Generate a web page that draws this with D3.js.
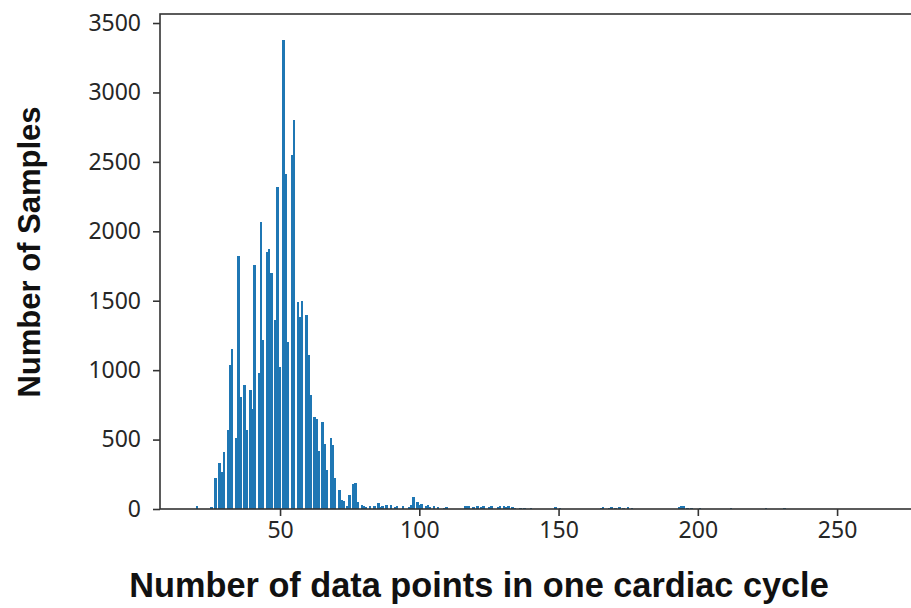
<!DOCTYPE html>
<html>
<head>
<meta charset="utf-8">
<script src="https://cdn.jsdelivr.net/npm/d3@7"></script>
<style>
  body { margin: 0; background: #fff; }
  svg { display: block; }
</style>
</head>
<body>
<div id="chart"></div>
<script>
// points per cardiac cycle (integer values) and how many samples have that length
const cycleLengths = [
  20, 25, 27, 28, 29, 30, 31, 32, 33, 34, 35, 36, 37, 38, 39, 40, 41, 42, 43, 44,
  45, 46, 47, 48, 49, 50, 51, 52, 53, 54, 55, 56, 57, 58, 59, 60, 61, 62, 63, 64,
  65, 66, 67, 68, 69, 70, 71, 72, 73, 74, 75, 76, 77, 78, 79, 80,
  81, 82, 84, 85, 86, 87, 88, 90, 91, 92, 94, 96, 97, 98, 99, 100, 101, 102, 103,
  104, 105, 107, 109, 110, 116, 117, 118, 119, 121, 122, 123, 125, 126, 128, 129,
  130, 131, 132, 133, 134, 136, 138, 140, 149, 150, 165, 166, 168, 169, 170, 172,
  173, 175, 176, 193, 194, 195, 196, 198, 201, 212, 224, 231
]
const sampleCounts = [
  20, 15, 220, 330, 265, 410, 570, 1040, 1150, 510, 1820, 810, 890, 570, 860, 720, 1760, 980, 2070, 1220,
  1850, 1870, 1700, 1360, 2320, 1020, 3380, 2410, 1200, 2550, 2800, 1490, 1385, 1500, 1400, 1110, 820, 660, 650, 420,
  630, 470, 280, 510, 460, 220, 140, 65, 60, 20, 100, 180, 190, 50, 30, 20,
  15, 25, 20, 40, 15, 20, 30, 30, 15, 20, 25, 15, 30, 85, 50, 30, 35, 25, 30,
  15, 20, 15, 10, 15, 25, 20, 20, 15, 20, 15, 20, 15, 20, 15, 20,
  20, 15, 20, 15, 10, 10, 10, 8, 15, 10, 10, 12, 10, 12, 10, 12,
  10, 12, 10, 15, 25, 20, 10, 10, 8, 8, 8, 8
]
const xTicks = [50, 100, 150, 200, 250]
const yTicks = [0, 500, 1000, 1500, 2000, 2500, 3000, 3500]

const xLabel = 'Number of data points in one cardiac cycle'
const yLabel = 'Number of Samples'

// histogram bins are narrower than one unit, so some bins stay empty
const BIN_ORIGIN = 19
const BIN_WIDTH = 0.74

const BAR_FILL = '#1f77b4'
const AXIS_COLOR = '#333'

const dimensions = {
  width: 911,
  height: 608,
  margin: {
    top: 14,
    right: -18, // the right spine sits just past the window edge
    bottom: 99,
    left: 160
  }
}

const bins = cycleLengths.map((v, i) => {
  const idx = Math.floor((v - BIN_ORIGIN) / BIN_WIDTH)
  const x0 = BIN_ORIGIN + idx * BIN_WIDTH
  return { x0, x1: x0 + BIN_WIDTH, count: sampleCounts[i] }
})

const wrapper = d3.select('#chart').append('svg')
  .attr('width', dimensions.width)
  .attr('height', dimensions.height)

const innerW = dimensions.width - dimensions.margin.left - dimensions.margin.right
const innerH = dimensions.height - dimensions.margin.top - dimensions.margin.bottom

const xScale = d3.scaleLinear()
  .domain([6.9, 283])
  .range([dimensions.margin.left, dimensions.margin.left + innerW])
const yScale = d3.scaleLinear()
  .domain([0, 3565])
  .range([dimensions.margin.top + innerH, dimensions.margin.top])

// bars
wrapper.append('g')
  .attr('shape-rendering', 'crispEdges')
  .selectAll('rect')
  .data(bins)
  .join('rect')
  .attr('x', d => xScale(d.x0))
  .attr('width', d => xScale(d.x1) - xScale(d.x0) + 0.5)
  .attr('y', d => yScale(d.count))
  .attr('height', d => yScale(0) - yScale(d.count))
  .style('fill', BAR_FILL)

// axes
const xAxisContainer = wrapper.append('g')
  .attr('transform', `translate(0, ${yScale(0)})`)
  .call(d3.axisBottom(xScale).tickValues(xTicks).tickFormat(d3.format('d')).tickSize(7).tickPadding(6).tickSizeOuter(0))
const yAxisContainer = wrapper.append('g')
  .attr('transform', `translate(${xScale.range()[0]}, 0)`)
  .call(d3.axisLeft(yScale).tickValues(yTicks).tickFormat(d3.format('d')).tickSize(7).tickPadding(12).tickSizeOuter(0))

for (const ax of [xAxisContainer, yAxisContainer]) {
  ax.select('.domain').remove()
  ax.selectAll('.tick line').attr('stroke', AXIS_COLOR).attr('stroke-width', 1.6)
  ax.selectAll('.tick text')
    .attr('fill', '#262626')
    .style('font-family', '"Noto Sans", "Open Sans", sans-serif')
    .style('font-size', '23px')
}

// frame (matplotlib spines)
wrapper.append('rect')
  .attr('x', xScale.range()[0])
  .attr('y', yScale.range()[1])
  .attr('width', innerW)
  .attr('height', innerH)
  .attr('fill', 'none')
  .attr('stroke', AXIS_COLOR)
  .attr('stroke-width', 1.6)

// axis titles
wrapper.append('text')
  .attr('x', 479)
  .attr('y', 597)
  .attr('text-anchor', 'middle')
  .style('font-family', '"Liberation Sans", Arial, sans-serif')
  .style('font-weight', 'bold')
  .style('font-size', '34.3px')
  .style('fill', '#111')
  .text(xLabel)

wrapper.append('text')
  .attr('transform', 'translate(40, 252) rotate(-90)')
  .attr('text-anchor', 'middle')
  .style('font-family', '"Liberation Sans", Arial, sans-serif')
  .style('font-weight', 'bold')
  .style('font-size', '31px')
  .style('fill', '#111')
  .text(yLabel)
</script>
</body>
</html>
